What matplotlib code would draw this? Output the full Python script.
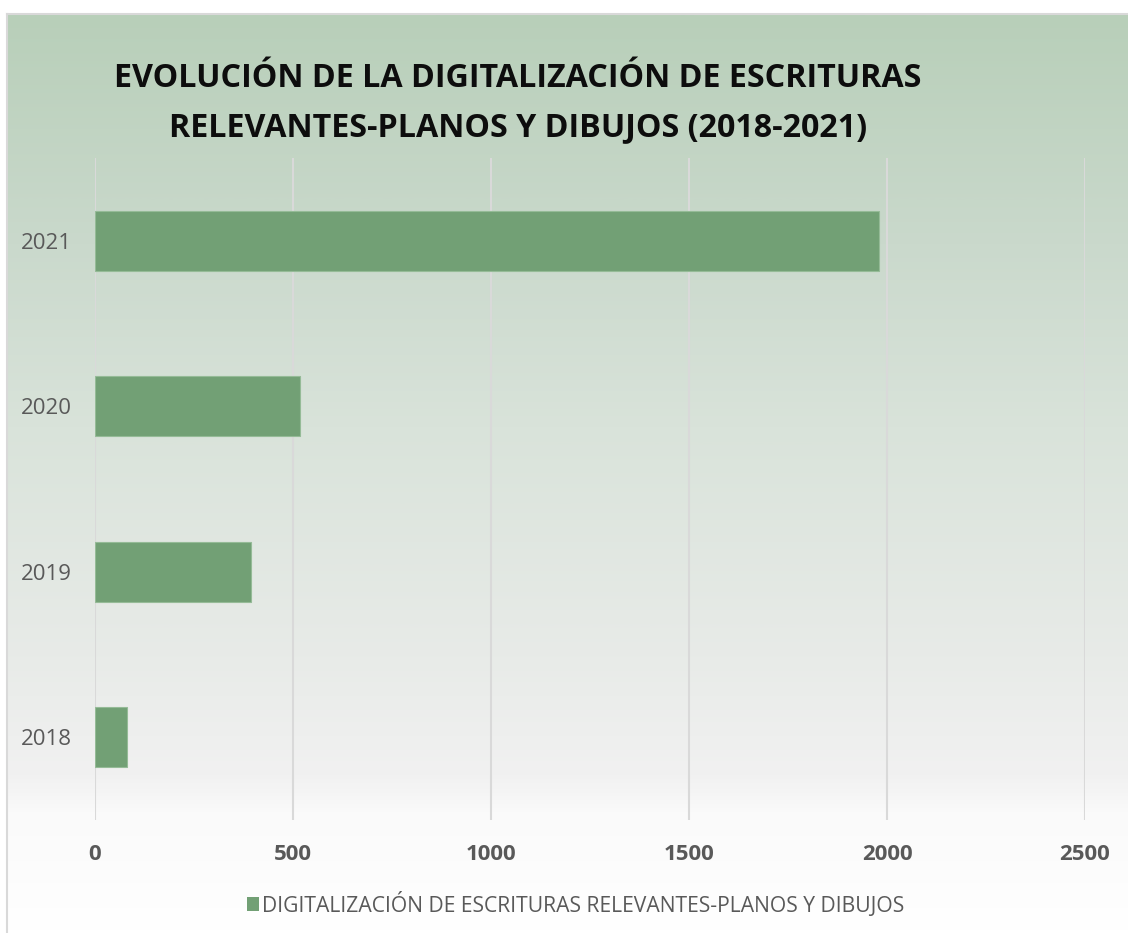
import numpy as np
import matplotlib
matplotlib.use("Agg")
import matplotlib.pyplot as plt
from matplotlib.colors import LinearSegmentedColormap
from matplotlib.patches import Rectangle
from matplotlib.lines import Line2D

# Data
years = ["2018", "2019", "2020", "2021"]
values = [80, 395, 517, 1980]
x_ticks = [0, 500, 1000, 1500, 2000, 2500]
title = "EVOLUCIÓN DE LA DIGITALIZACIÓN DE ESCRITURAS\nRELEVANTES-PLANOS Y DIBUJOS (2018-2021)"
series_name = "DIGITALIZACIÓN DE ESCRITURAS RELEVANTES-PLANOS Y DIBUJOS"

W, H = 1128, 933
fig = plt.figure(figsize=(W / 100, H / 100), dpi=100)
fig.patch.set_facecolor("white")

def fx(px):
    return px / W

def fy(py):
    return 1 - py / H

# Chart-area background: vertical gradient from soft green to white
bg = fig.add_axes([fx(7), 0, 1 - fx(7), fy(14)], zorder=0)
grad_cmap = LinearSegmentedColormap.from_list(
    "bg",
    [(0.0, "#b8cfb9"), (0.25, "#cad9cc"), (0.45, "#d9e3da"),
     (0.70, "#e8ebe8"), (0.83, "#f1f1f1"), (0.87, "#fafafa"), (1.0, "#ffffff")],
)
grad = np.linspace(0, 1, 512).reshape(-1, 1)
bg.imshow(grad, aspect="auto", cmap=grad_cmap, extent=[0, 1, 0, 1], origin="upper")
bg.set_axis_off()

# Chart border (top and left edges)
fig.add_artist(Line2D([fx(6.5), 1], [fy(13.5), fy(13.5)], color="#d9d9d9", lw=1.5, zorder=1))
fig.add_artist(Line2D([fx(6.5), fx(6.5)], [fy(13.5), 0], color="#d9d9d9", lw=1.5, zorder=1))

# Plot area
ax = fig.add_axes([fx(95), fy(820), fx(1085) - fx(95), fy(158) - fy(820)], zorder=2)
ax.patch.set_alpha(0)
y = np.arange(len(years))
bar_color = "#72a075"
ax.barh(y, values, height=0.36, color=bar_color, edgecolor="#95bb97", linewidth=0.8, zorder=3)

ax.set_xlim(0, 2500)
ax.set_ylim(-0.5, len(years) - 0.5)
ax.set_xticks(x_ticks)
ax.set_xticklabels([str(t) for t in x_ticks], fontfamily="Open Sans", fontweight="bold",
                   fontsize=16, color="#595959")
ax.set_yticks(y)
ax.set_yticklabels(years, fontfamily="Open Sans", fontsize=16, color="#595959")
ax.tick_params(axis="x", length=0, pad=17)
ax.tick_params(axis="y", length=0, pad=16.5)
for s in ax.spines.values():
    s.set_visible(False)
ax.grid(axis="x", color="#d9d9d9", linewidth=1.5, zorder=1)
ax.set_axisbelow(True)

# Title
fig.text(fx(518), fy(103), title, ha="center", va="center", fontfamily="Open Sans",
         fontweight="bold", fontsize=23.2, color="#0d0d0d", linespacing=1.65, zorder=5)

# Legend
fig.add_artist(Rectangle((fx(247), fy(911)), fx(12), fy(897) - fy(911),
                         facecolor=bar_color, edgecolor="none", zorder=5))
fig.text(fx(262), fy(904), series_name, ha="left", va="center", fontfamily="Open Sans",
         fontsize=15.2, color="#595959", zorder=5)

fig.savefig("out.png", dpi=100, facecolor=fig.get_facecolor())
